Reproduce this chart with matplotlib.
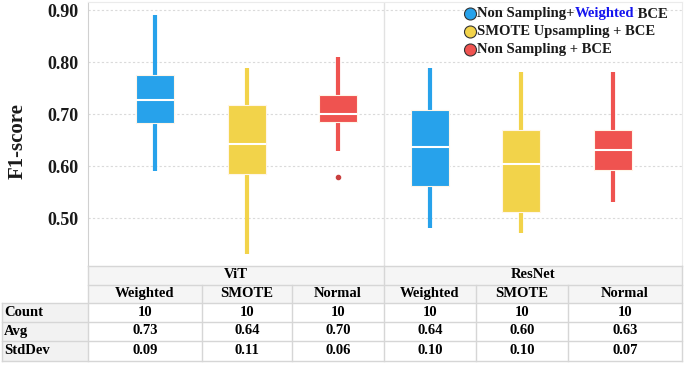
import matplotlib
matplotlib.use("Agg")
import matplotlib.pyplot as plt
from matplotlib.patches import Rectangle, Circle

plt.rcParams["font.family"] = ["Liberation Serif", "DejaVu Serif"]
plt.rcParams["font.weight"] = "bold"

# data
groups = ["ViT", "ResNet"]
methods = ["Weighted", "SMOTE", "Normal"]
whis_lo = [0.590, 0.431, 0.629, 0.480, 0.472, 0.531]
q1 = [0.683, 0.585, 0.684, 0.562, 0.511, 0.592]
med = [0.727, 0.642, 0.700, 0.637, 0.603, 0.631]
q3 = [0.775, 0.717, 0.737, 0.708, 0.670, 0.670]
whis_hi = [0.890, 0.789, 0.810, 0.789, 0.781, 0.781]
outliers = [[], [], [0.579], [], [], []]

row_names = ["Count", "Avg", "StdDev"]
counts = ["10", "10", "10", "10", "10", "10"]
avgs = ["0.73", "0.64", "0.70", "0.64", "0.60", "0.63"]
stds = ["0.09", "0.11", "0.06", "0.10", "0.10", "0.07"]

yticks = [0.50, 0.60, 0.70, 0.80, 0.90]
colors = ["#27A2EB", "#F2D34A", "#EF5350"]
legend_edge = ["#1E7FC0", "#B89A2A", "#222222"]

W, H = 685, 365
fig = plt.figure(figsize=(6.85, 3.65), dpi=100)

# main plot, pixel box 88..682 x 2..265.5
ax = fig.add_axes([88 / W, 1 - 265.5 / H, (682 - 88) / W, (265.5 - 2) / H])
stats = []
for i in range(6):
    stats.append(dict(whislo=whis_lo[i], q1=q1[i], med=med[i], q3=q3[i],
                      whishi=whis_hi[i], fliers=outliers[i]))
positions = list(range(6))
bp = ax.bxp(stats, positions=positions, widths=0.415, patch_artist=True,
            showcaps=False, showfliers=True)
for i, box in enumerate(bp["boxes"]):
    c = colors[i % 3]
    box.set_facecolor(c)
    box.set_edgecolor("#FFF6E8")
    box.set_linewidth(0.8)
    box.set_zorder(3)
for i, w in enumerate(bp["whiskers"]):
    w.set_color(colors[(i // 2) % 3])
    w.set_linewidth(3.0)
    w.set_solid_capstyle("butt")
    w.set_zorder(2)
for m in bp["medians"]:
    m.set_color("white")
    m.set_linewidth(1.5)
    m.set_zorder(4)
for f in bp["fliers"]:
    f.set_marker("o")
    f.set_markersize(3)
    f.set_markerfacecolor("#C9403F")
    f.set_markeredgecolor("#C9403F")

ax.set_xlim(-0.731, 5.753)
ax.set_ylim(0.4087, 0.9154)
ax.set_xticks([])
ax.set_yticks(yticks)
ax.set_yticklabels(["%.2f" % v for v in yticks], fontsize=13, fontweight="bold",
                   color="#1a1a1a")
ax.tick_params(axis="y", length=0, pad=6.5)
ax.grid(axis="y", color="#DADADA", linestyle=(0, (2, 2)), linewidth=0.8)
ax.set_axisbelow(True)
ax.axvline(2.5, color="#E2E2E2", linewidth=1.0, zorder=1)
for s in ["top", "right", "bottom"]:
    ax.spines[s].set_color("#EBEBEB")
ax.spines["bottom"].set_visible(False)
ax.spines["left"].set_color("#D0D0D0")

fig.text(18 / W, 1 - 141.5 / H, "F1-score", rotation=90, ha="center", va="center",
         fontsize=15, fontweight="bold", color="#1a1a1a")

# overlay in pixel coordinates for the table and legend
ov = fig.add_axes([0, 0, 1, 1], zorder=5)
ov.set_xlim(0, W)
ov.set_ylim(H, 0)
ov.axis("off")
ov.patch.set_alpha(0)

col_edges = [88, 202, 292, 384, 476, 568, 682]
row_edges = [265.5, 284.5, 302.5, 321.5, 340.5, 360.5]
line_c = "#D6D6D6"

# header backgrounds
ov.add_patch(Rectangle((88, 265.5), 682 - 88, 302.5 - 265.5, facecolor="#F5F5F5",
                       edgecolor="none"))
ov.add_patch(Rectangle((2, 302.5), 86, 360.5 - 302.5, facecolor="#F2F2F2",
                       edgecolor="none"))
for y in row_edges:
    x0 = 88 if y < 300 else 2
    ov.plot([x0, 682], [y, y], color=line_c, lw=1)
ov.plot([2, 2], [302.5, 360.5], color=line_c, lw=1)
for j, x in enumerate(col_edges):
    y0 = 265.5 if j in (0, 3, 6) else 284.5
    ov.plot([x, x], [y0, 360.5], color=line_c, lw=1)

fs = 10.5
for g, name in enumerate(groups):
    xc = (col_edges[3 * g] + col_edges[3 * g + 3]) / 2
    ov.text(xc, 275, name, ha="center", va="center", fontsize=fs, fontweight="bold")
rows = [counts, avgs, stds]
for k in range(6):
    xc = (col_edges[k] + col_edges[k + 1]) / 2
    ov.text(xc, 293.5, methods[k % 3], ha="center", va="center", fontsize=fs,
            fontweight="bold")
    for r in range(3):
        yc = (row_edges[r + 2] + row_edges[r + 3]) / 2
        ov.text(xc, yc, rows[r][k], ha="center", va="center", fontsize=fs,
                fontweight="bold")
for r in range(3):
    yc = (row_edges[r + 2] + row_edges[r + 3]) / 2
    ov.text(4, yc, row_names[r], ha="left", va="center", fontsize=fs,
            fontweight="bold")

# legend, drawn piece by piece so "Weighted" can be blue
legend_parts = [
    [("Non Sampling+", "#1a1a1a"), ("Weighted", "#1515F0"), (" BCE", "#1a1a1a")],
    [("SMOTE Upsampling + BCE", "#1a1a1a")],
    [("Non Sampling + BCE", "#1a1a1a")],
]
legend_y = [14, 32, 50]
renderer = fig.canvas.get_renderer()
for i, parts in enumerate(legend_parts):
    ov.add_patch(Circle((470.5, legend_y[i]), 6, facecolor=colors[i],
                        edgecolor="#333333", lw=0.8))
    x = 477
    for txt, c in parts:
        t = ov.text(x, legend_y[i], txt, ha="left", va="center", fontsize=fs,
                    fontweight="bold", color=c)
        bb = t.get_window_extent(renderer)
        x += bb.width

fig.savefig("out.png", dpi=100)
